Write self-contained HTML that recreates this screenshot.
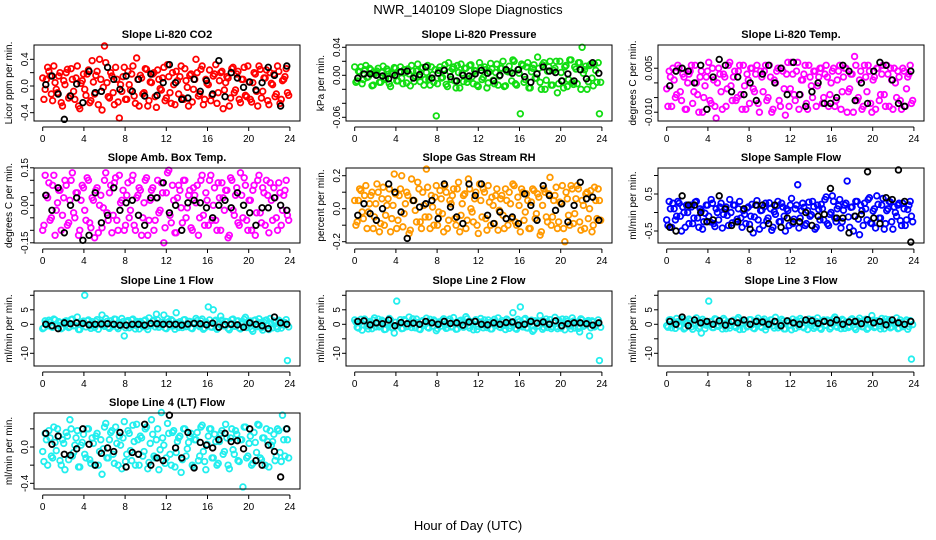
<!DOCTYPE html>
<html><head><meta charset="utf-8">
<style>
html,body{margin:0;padding:0;background:#fff;}
svg{display:block;font-family:"Liberation Sans",sans-serif;}
</style></head>
<body>
<svg id="chart" width="936" height="540" viewBox="0 0 936 540" xmlns="http://www.w3.org/2000/svg">
<rect width="936" height="540" fill="#fff"/>
<text x="468" y="14" text-anchor="middle" font-size="13">NWR_140109  Slope Diagnostics</text>
<text x="468" y="530" text-anchor="middle" font-size="13">Hour of Day (UTC)</text>
</svg>
<script>
const co2 = [0.12,-0.05,0.28,0.15,-0.22,0.05,-0.1,0.2,-0.3,0.02,0.25,-0.15,0.1,-0.2,0.3,-0.34,0.08,-0.05,0.18,-0.25,0.38,-0.12,0.22,0.4,-0.36,0.6,0.05,-0.18,0.15,-0.28,0.1,-0.48,-0.08,0.28,-0.2,0.02,0.18,-0.15,0.42,-0.3,0.12,-0.1,0.25,-0.22,0.05,0.2,-0.32,0.1,-0.06,0.28,-0.18,0.14,-0.26,0.02,0.22,-0.12,0.3,-0.2,0.08,-0.3,0.18,-0.05,0.4,-0.15,0.25,-0.28,0.1,0.02,-0.22,0.15,0.32,-0.1,0.2,-0.34,0.05,0.12,-0.18,0.28,-0.06,0.22,-0.25,0.1,-0.14,0.3,-0.2,0.05,0.18,-0.3,0.25,-0.08,0.12,-0.22,0.2,0.02,-0.16,0.3,-0.26,0.08,0.14,-0.1];
const co2B = [-0.2,0.1,0.22,-0.12,0.3,-0.05,0.15,-0.25,0.08,0.2,-0.18,0.26,-0.08,0.12,-0.3,0.04,0.18,-0.14,0.24,-0.22,0.06,0.16,-0.28,0.1,-0.02,0.35,-0.16,0.2,-0.1,0.28,-0.24,0.02,0.14,-0.2,0.22,-0.06,0.3,-0.26,0.1,0.16,-0.12,0.26,-0.3,0.06,0.18,-0.16,0.24,-0.04,0.12,-0.22,0.32,-0.1,0.2,-0.28,0.08,0.14,-0.18,0.26,-0.02,0.16,-0.24,0.1,0.2,-0.12,0.3,-0.2,0.04,0.24,-0.14,0.18,-0.26,0.08,0.22,-0.06,0.14,-0.3,0.26,-0.1,0.18,-0.2,0.1,0.28,-0.16,0.06,-0.24,0.2,-0.08,0.3,-0.18,0.12,0.24,-0.28,0.04,0.18,-0.12,0.22,-0.2,0.1,0.26,-0.14];
const co2Ref = [0.02,0.15,-0.12,-0.5,-0.15,0.03,-0.25,0.22,-0.1,-0.08,0.28,0.1,-0.05,0.15,-0.08,0.1,-0.15,0.18,-0.14,0.05,0.32,0.05,-0.2,-0.18,0.1,-0.08,0.08,-0.12,0.38,-0.16,0.2,0.12,-0.02,0.06,-0.06,0.05,0.28,0.16,-0.3,0.3];
const pres = [0.012,-0.008,0.005,-0.012,0.008,-0.003,0.01,-0.015,0.002,0.006,-0.01,0.004,-0.006,0.009,-0.012,0.003,0.011,-0.008,0.005,-0.004,0.008,-0.011,0.002,0.014,-0.009,0.006,-0.002,0.01,-0.014,0.004,-0.006,0.012,-0.01,-0.058,0.007,-0.004,0.009,-0.013,0.018,-0.006,0.012,-0.018,0.004,0.016,-0.009,0.01,-0.005,0.015,-0.012,0.006,-0.016,0.011,-0.003,0.008,-0.011,0.017,-0.007,0.004,-0.014,0.01,0.02,-0.015,0.005,0.005,0.022,-0.012,0.008,-0.055,0.014,-0.006,0.018,-0.018,0.01,-0.004,0.026,-0.01,0.015,-0.02,0.006,0.02,-0.014,0.01,-0.025,0.02,-0.008,0.012,-0.016,0.022,-0.01,0.012,-0.012,0.018,0.04,0.008,-0.02,0.014,-0.004,0.016,-0.01,-0.055];
const presB = [-0.01,0.006,0.012,-0.006,0.014,-0.002,0.008,-0.014,0.004,0.01,-0.01,0.013,-0.004,0.006,-0.016,0.002,0.01,-0.008,0.012,-0.012,0.004,0.009,-0.015,0.006,-0.001,0.016,-0.009,0.011,-0.006,0.014,-0.014,0.001,0.008,-0.012,0.012,-0.003,0.015,-0.016,0.005,0.009,-0.008,0.014,-0.018,0.003,0.01,-0.01,0.014,-0.002,0.007,-0.014,0.018,-0.006,0.012,-0.018,0.005,0.009,-0.012,0.016,-0.001,0.01,-0.016,0.006,0.013,-0.008,0.02,-0.014,0.003,0.016,-0.01,0.012,-0.018,0.005,0.015,-0.004,0.01,-0.02,0.018,-0.007,0.012,-0.014,0.007,0.02,-0.012,0.004,-0.018,0.014,-0.006,0.022,-0.013,0.009,0.018,-0.02,0.003,0.013,-0.009,0.016,-0.015,0.007,0.018,-0.01];
const presRef = [-0.004,0.002,0.002,0.0,-0.001,-0.005,0.0,0.005,0.006,-0.004,0.001,0.012,-0.004,0.003,0.007,-0.002,-0.008,0.0,-0.001,0.002,0.007,0.003,-0.008,0.0,0.008,0.003,0.008,-0.002,-0.01,0.002,0.012,0.006,0.004,-0.008,0.002,-0.008,0.008,-0.005,0.018,0.003];
const ltemp = [-0.002,0.004,-0.008,0.001,-0.004,0.005,-0.006,0.002,-0.009,0.003,0.006,-0.003,0.0,-0.01,0.004,-0.005,0.002,0.007,-0.007,0.001,-0.012,0.005,-0.003,0.003,-0.008,0.006,-0.001,0.002,-0.006,0.004,-0.004,0.006,-0.009,0.001,0.005,-0.002,0.003,-0.007,0.004,-0.003,0.006,-0.005,0.002,-0.009,0.0,0.005,-0.008,0.004,-0.011,0.007,-0.002,0.003,-0.006,0.007,-0.004,0.001,0.006,-0.009,0.002,-0.005,0.004,-0.001,0.005,-0.007,0.003,0.002,-0.004,0.004,-0.008,0.001,0.006,-0.003,0.005,-0.01,-0.002,0.003,0.009,-0.006,0.001,-0.009,0.006,-0.003,0.004,-0.01,0.002,0.005,-0.006,0.003,-0.004,0.006,-0.008,0.001,0.005,-0.005,0.002,-0.009,0.004,-0.002,0.003,-0.007];
const ltempB = [-0.008,0.002,0.005,-0.005,0.006,-0.003,0.003,-0.009,0.0,0.004,-0.007,0.006,-0.004,0.002,-0.01,-0.001,0.004,-0.006,0.005,-0.008,0.0,0.003,-0.009,0.002,-0.002,0.007,-0.006,0.004,-0.005,0.006,-0.009,-0.001,0.003,-0.007,0.005,-0.003,0.006,-0.01,0.002,0.004,-0.006,0.006,-0.01,0.001,0.004,-0.006,0.005,-0.002,0.003,-0.008,0.007,-0.004,0.004,-0.009,0.001,0.003,-0.007,0.006,-0.001,0.004,-0.008,0.002,0.005,-0.005,0.006,-0.008,0.0,0.005,-0.006,0.004,-0.009,0.002,0.005,-0.003,0.003,-0.01,0.006,-0.005,0.004,-0.008,0.002,0.006,-0.007,0.001,-0.009,0.005,-0.004,0.006,-0.008,0.003,0.005,-0.009,0.0,0.004,-0.006,0.005,-0.008,0.002,0.006,-0.006];
const ltempRef = [-0.001,0.004,0.005,0.004,0.0,0.006,-0.009,0.002,0.008,0.006,-0.003,0.002,-0.004,0.0,-0.006,0.003,0.006,0.0,0.005,-0.004,0.007,-0.004,-0.008,-0.003,0.0,-0.007,-0.007,-0.005,0.006,0.004,-0.006,0.0,-0.007,0.004,0.007,0.006,0.001,-0.007,-0.008,0.004];
const amb = [-0.1,0.12,0.03,-0.06,0.08,-0.12,0.01,0.06,-0.04,0.1,-0.08,0.02,0.13,-0.05,0.05,-0.1,0.08,-0.02,0.11,-0.07,0.03,-0.13,0.07,0.0,-0.09,0.1,-0.03,0.05,-0.11,0.09,-0.06,0.12,0.02,-0.1,0.04,-0.05,0.1,-0.08,0.03,0.07,-0.12,0.01,0.11,-0.06,0.06,-0.1,0.03,-0.03,0.09,-0.15,0.05,0.14,-0.07,0.02,-0.11,0.08,-0.01,0.1,-0.05,0.04,-0.09,0.07,0.01,-0.12,0.1,-0.04,0.05,-0.08,0.12,0.0,-0.06,0.09,-0.1,0.03,0.06,-0.13,0.11,-0.02,0.04,-0.07,0.13,-0.05,0.08,-0.1,0.02,0.06,-0.12,0.1,-0.03,0.07,-0.08,0.04,0.09,-0.06,0.03,-0.1,0.05,-0.02,0.06,-0.04];
const ambB = [-0.08,0.04,0.09,-0.05,0.12,-0.02,0.06,-0.1,0.03,0.08,-0.07,0.1,-0.03,0.05,-0.12,0.02,0.07,-0.06,0.1,-0.09,0.02,0.06,-0.11,0.04,-0.01,0.13,-0.06,0.08,-0.04,0.11,-0.1,0.01,0.06,-0.08,0.09,-0.02,0.12,-0.1,0.04,0.06,-0.05,0.1,-0.12,0.02,0.07,-0.06,0.1,-0.02,0.05,-0.09,0.13,-0.04,0.08,-0.11,0.03,0.06,-0.07,0.1,-0.01,0.06,-0.1,0.04,0.08,-0.05,0.12,-0.08,0.02,0.1,-0.06,0.07,-0.1,0.03,0.09,-0.02,0.06,-0.12,0.1,-0.04,0.07,-0.08,0.04,0.11,-0.06,0.02,-0.1,0.08,-0.03,0.12,-0.07,0.05,0.1,-0.11,0.02,0.07,-0.05,0.09,-0.08,0.04,0.1,-0.06];
const ambRef = [0.04,-0.02,0.07,-0.11,0.0,0.03,-0.14,-0.12,0.05,-0.07,-0.04,0.07,-0.02,0.01,0.02,-0.04,-0.08,0.03,0.03,0.09,-0.03,0.0,-0.1,0.01,0.02,0.01,-0.01,-0.05,0.0,0.02,-0.01,0.05,0.0,-0.03,-0.08,-0.01,-0.01,0.03,0.0,-0.02];
const rh = [0.05,-0.08,0.12,-0.02,0.08,-0.12,0.03,0.1,-0.05,0.15,-0.14,0.06,-0.1,0.02,0.12,-0.06,0.21,-0.12,0.08,0.2,-0.03,0.1,-0.15,0.18,0.05,-0.08,0.12,-0.12,0.02,0.24,-0.05,0.08,-0.1,0.14,-0.02,0.06,-0.14,0.1,-0.07,0.03,0.12,-0.1,0.16,-0.04,0.08,-0.12,0.18,0.0,-0.08,0.1,-0.15,0.05,0.12,-0.06,0.14,-0.1,0.02,0.08,-0.13,0.06,-0.04,0.12,-0.1,0.03,0.15,-0.08,0.07,-0.14,0.1,-0.02,0.05,-0.12,0.12,-0.06,0.09,-0.16,0.02,0.1,-0.08,0.19,-0.05,0.08,-0.12,0.04,0.14,-0.2,0.06,-0.1,0.12,-0.03,0.14,-0.08,0.05,-0.12,0.1,0.0,-0.14,0.13,-0.06,0.05];
const rhB = [-0.1,0.05,0.11,-0.06,0.14,-0.02,0.08,-0.12,0.03,0.1,-0.09,0.13,-0.04,0.06,-0.14,0.02,0.09,-0.07,0.12,-0.11,0.03,0.08,-0.13,0.05,-0.01,0.16,-0.08,0.1,-0.05,0.13,-0.12,0.01,0.07,-0.1,0.11,-0.03,0.14,-0.12,0.05,0.08,-0.06,0.12,-0.14,0.03,0.09,-0.07,0.12,-0.02,0.06,-0.1,0.15,-0.05,0.1,-0.13,0.04,0.07,-0.09,0.12,-0.01,0.08,-0.12,0.05,0.1,-0.06,0.14,-0.1,0.02,0.12,-0.07,0.09,-0.12,0.04,0.11,-0.03,0.07,-0.14,0.12,-0.05,0.09,-0.1,0.05,0.13,-0.08,0.03,-0.12,0.1,-0.04,0.14,-0.09,0.06,0.12,-0.13,0.02,0.09,-0.06,0.11,-0.1,0.05,0.12,-0.07];
const rhRef = [-0.04,0.03,-0.03,-0.07,0.0,0.15,0.1,-0.02,-0.18,0.05,0.01,0.03,0.05,-0.06,0.15,0.01,-0.05,-0.09,0.15,0.08,0.15,-0.04,-0.09,-0.02,-0.06,-0.05,-0.09,0.09,0.02,-0.07,0.14,0.08,-0.01,0.03,-0.08,0.02,0.16,0.06,0.07,-0.07];
const samp = [-0.2,0.3,-0.4,0.1,-0.1,0.25,-0.5,0.0,0.2,-0.3,0.15,-0.15,0.3,-0.4,0.05,-0.25,0.2,-0.1,0.35,-0.3,0.1,-0.2,0.25,-0.05,0.15,-0.35,0.0,0.2,-0.25,0.1,-0.15,0.05,-0.3,0.15,-0.1,-0.55,0.2,-0.2,0.05,-0.35,0.25,-0.15,0.1,-0.4,-0.05,0.3,-0.25,0.15,-0.5,0.05,0.2,-0.3,0.1,0.75,-0.15,0.25,-0.35,0.05,-0.1,0.3,-0.45,0.2,-0.2,0.1,0.35,-0.3,-0.05,0.45,-0.15,0.1,0.35,-0.25,0.2,0.85,-0.4,0.15,-0.1,0.3,-0.6,0.05,0.25,-0.2,0.4,-0.3,0.1,0.45,-0.15,0.2,-0.45,0.05,0.3,-0.25,0.15,-0.1,0.25,-0.35,0.1,-0.2,0.2,-0.1];
const sampB = [-0.35,0.1,0.25,-0.2,0.3,-0.1,0.15,-0.4,0.0,0.2,-0.3,0.28,-0.15,0.1,-0.45,-0.02,0.2,-0.25,0.25,-0.38,0.0,0.15,-0.42,0.08,-0.08,0.35,-0.28,0.2,-0.18,0.3,-0.4,-0.05,0.12,-0.32,0.22,-0.12,0.32,-0.45,0.06,0.16,-0.22,0.26,-0.48,0.02,0.18,-0.25,0.25,-0.1,0.1,-0.35,0.38,-0.18,0.2,-0.42,0.05,0.14,-0.3,0.28,-0.06,0.16,-0.4,0.08,0.22,-0.2,0.42,-0.35,0.0,0.3,-0.25,0.18,-0.42,0.06,0.25,-0.12,0.14,-0.5,0.3,-0.18,0.2,-0.35,0.1,0.35,-0.28,0.04,-0.42,0.22,-0.15,0.38,-0.3,0.1,0.28,-0.45,0.0,0.2,-0.22,0.25,-0.35,0.08,0.3,-0.25];
const sampRef = [-0.4,-0.5,0.45,0.2,0.2,0.0,-0.25,-0.2,0.45,0.1,-0.35,-0.25,0.1,-0.45,0.2,0.2,-0.3,0.2,-0.4,-0.15,-0.25,-0.25,0.0,-0.35,-0.1,-0.05,0.65,-0.15,-0.15,-0.55,-0.1,-0.05,1.1,-0.15,-0.3,0.4,0.35,1.15,0.3,-0.8];
const line1 = [-1.5,1.2,-0.5,0.8,-1,1.5,-0.2,0.6,-1.2,1,0.3,-0.8,1.8,-0.4,2.5,-1.8,0.5,10,1.2,-0.6,0.9,-1.1,1.6,0.2,3.2,-0.7,1,-1.4,0.4,1.8,-0.9,0.6,2,-4,0.8,-1.2,1.5,-0.3,1,-1.6,0.5,1.2,-0.8,2.2,-0.2,1.4,3.5,-1,0.7,3.2,-1.5,0.9,1.6,-0.6,4,-1.1,0.3,1.5,-0.8,1,-1.3,0.6,2,-0.4,1.2,-1.7,0.8,6,-0.9,5,1.4,-1.2,2.8,-0.5,1,-1.4,0.4,1.8,-0.7,1.2,-1.6,0.9,2.4,-0.3,1.1,-2.4,1.5,-0.8,0.6,-2,1.3,-0.5,2,-1.2,0.8,-1.5,1,-0.2,0.6,-12.5];
const line1B = [-1.2,0.6,1.4,-0.8,1.8,-0.3,0.9,-1.5,0.2,1.2,-1.1,1.6,-0.5,0.7,-1.8,0.1,1.1,-0.9,1.5,-1.4,0.2,1,-1.7,0.6,-0.1,2,-1,1.2,-0.6,1.7,-1.5,0.1,0.9,-1.2,1.3,-0.3,1.8,-1.6,0.6,1,-0.8,1.5,-1.8,0.3,1.1,-0.9,1.5,-0.2,0.7,-1.3,1.9,-0.6,1.2,-1.7,0.5,0.9,-1.1,1.6,-0.1,1,-1.5,0.6,1.3,-0.8,1.8,-1.3,0.2,1.5,-1,1.1,-1.7,0.4,1.4,-0.4,0.9,-1.9,1.6,-0.7,1.1,-1.3,0.6,1.7,-1.1,0.3,-1.7,1.3,-0.5,1.9,-1.2,0.7,1.5,-1.8,0.2,1.1,-0.8,1.4,-1.3,0.6,1.6,-0.9];
const line1Ref = [0,-0.5,-1.5,0.5,0.2,0.5,0.3,-0.2,0,0.1,0.2,0,-0.3,-0.3,0,0,-0.3,0.3,0.2,0,0,0,-0.3,0.1,0.3,0.2,-0.2,0.4,-1,-0.1,0,-0.2,-1,0.5,0,-0.5,-1.5,2.5,0.5,0];
const line2 = [1.5,-1,0.5,-2,1.8,-0.6,1,-1.5,2.2,0.3,-0.9,1.4,-1.8,0.7,2,-1.2,-3,8,0.4,-1.5,1.6,-0.8,2.5,-1.1,0.6,1.8,-1.6,0.9,-0.4,2.1,-1.3,0.5,1.5,-2.2,0.8,-0.6,1.9,-1.4,1.1,-0.9,2.3,-1.7,0.4,1.4,-1,2.6,-0.5,0.9,-1.9,1.6,-0.7,2,-1.2,0.3,1.5,-1.6,0.8,-0.4,2.2,-1.1,0.7,-1.8,1.3,-0.5,4,-1.4,1.7,6,-0.9,2,-1.3,0.6,-2.4,1.2,-0.6,3,-1.7,0.9,-1.1,1.6,-0.8,2.4,-1.5,0.5,1.8,-1.9,1,-0.6,2.2,-1.3,0.7,-2.6,1.5,-0.4,0.8,-4,1.2,-0.9,0.4,-12.5];
const line2B = [0.8,-1.3,1.7,-0.2,1.1,-1.6,0.5,1.4,-0.9,1.8,-0.4,0.9,-1.7,0.3,1.5,-1.1,0.7,-0.5,1.6,-1.4,1.2,-0.7,0.4,1.9,-1.2,0.6,-1.8,1.3,0.1,-1,1.7,-0.6,1,-1.5,0.5,1.4,-0.3,-1.2,1.8,-0.8,0.3,-1.6,1.2,0.7,-0.5,1.9,-1.3,0.4,1.1,-1.8,0.8,-0.2,1.5,-1.1,0.6,-1.6,1.7,0.2,-0.9,1.3,-0.4,1.8,-1.4,0.5,1,-1.7,0.9,-0.3,1.6,-1.2,0.2,1.4,-1.9,0.7,-0.6,1.2,-1.1,1.8,0.3,-1.5,1,-0.8,1.5,-1.3,0.4,1.7,-0.2,-1.6,1.1,0.6,-1.4,1.9,-0.7,0.2,1.3,-1.2,0.8,-0.4,1.5,-1];
const line2Ref = [1,1.2,-0.2,0.5,0.2,1.5,-0.5,0.6,0.2,0.4,0,1,0.5,0,1,0.3,0.5,-0.3,0.8,1,0,-0.2,0.5,0,0.6,0.8,-0.3,0,1,0.4,0.8,0,1.2,-0.5,0.2,0.5,0.5,0.2,-0.3,0.5];
const line3 = [-0.5,1.5,-1.2,0.8,2,-0.6,1.2,-1.6,0.4,1.8,-0.9,0.5,2.2,-1.4,-3,1,-0.3,8,0.9,-1.1,1.7,-0.7,0.3,2,-1.5,0.8,-0.4,1.4,-1.1,2.3,0.1,-1.7,1,-0.6,1.6,-1.3,0.6,2.1,-0.8,1.2,-1.9,0.7,1.5,-0.5,2.4,-1.2,0.4,1.1,-1.6,0.9,-0.3,1.8,-1.4,0.6,2,-0.9,1.3,-1.8,0.5,1.6,-0.7,2.2,-1.3,0.8,-0.4,1.5,-1.6,1,2.5,-1,0.4,1.7,-1.4,0.7,-0.6,1.9,-1.2,0.9,2.1,-0.8,1.4,-1.7,0.6,3,-1.1,1.2,-0.5,2,-1.5,0.8,1.6,-0.9,0.3,2.2,-1.3,0.7,-0.4,1.5,-0.8,-12];
const line3B = [-1,1.6,0.3,-1.4,0.9,-0.5,1.8,-1.2,0.6,1.3,-1.7,0.2,1.1,-0.8,1.7,-1.5,0.4,1,-1.1,1.9,-0.3,0.8,-1.6,1.4,0.1,-1.3,1.2,-0.6,1.7,-1.8,0.5,1,-0.9,1.6,-0.2,-1.5,1.3,0.4,-1.1,1.8,-0.7,0.2,1.5,-1.3,0.9,-0.4,1.7,-1.6,0.6,1.1,-1.9,0.3,1.4,-0.8,1.2,-1.2,0.5,1.8,-0.5,-1.4,1,0.1,-1.7,1.5,-0.3,1.1,-1,1.9,-0.6,0.4,-1.5,1.3,0.8,-1.1,1.6,-0.2,-1.8,1.2,0.5,-0.9,1.7,-1.3,0.3,1.4,-0.7,1,-1.6,0.6,1.8,-0.4,-1.2,1.1,0.2,-1.5,1.5,-0.8,0.9,-1.7,1.3,-0.1];
const line3Ref = [1,0,2.5,-0.5,1.5,0.5,1,0,1.2,-0.3,1,0.5,1.5,0,1,0.8,0,1,-0.5,1.2,0.5,0,1.5,1.2,0.3,1,0.5,1.5,0,0.8,1,0.2,1.6,0.5,1,-0.2,1.5,0.5,0,1];
const line4 = [-0.05,0.15,-0.2,0.1,-0.12,0.05,0.2,-0.15,0.08,-0.25,0.12,0.3,-0.1,0.02,0.18,-0.22,0.05,-0.08,0.2,-0.14,0.1,-0.2,0.15,-0.05,-0.3,0.22,-0.12,0.08,0.18,-0.18,0.04,0.12,-0.24,0.28,-0.08,0.15,-0.15,0.06,0.25,-0.2,0.1,-0.05,0.22,-0.17,0.3,-0.1,0.08,-0.25,0.38,0.02,-0.12,0.15,-0.2,0.18,-0.06,0.1,-0.28,0.2,-0.1,0.05,0.15,-0.22,0.08,-0.15,0.22,-0.05,-0.25,0.12,0.2,-0.12,0.06,-0.18,0.15,-0.08,0.25,-0.2,0.1,-0.03,0.18,-0.15,0.08,-0.44,0.22,-0.1,0.12,-0.18,0.05,0.25,-0.12,0.1,-0.2,0.06,0.18,0.06,-0.15,0.2,-0.06,0.35,-0.1,0.08];
const line4B = [-0.16,0.08,0.18,-0.1,0.22,-0.04,0.12,-0.2,0.04,0.16,-0.14,0.2,-0.06,0.1,-0.22,0.02,0.14,-0.12,0.2,-0.18,0.04,0.12,-0.2,0.08,-0.02,0.26,-0.12,0.16,-0.08,0.22,-0.2,0.02,0.1,-0.16,0.18,-0.04,0.24,-0.2,0.08,0.12,-0.1,0.2,-0.24,0.04,0.14,-0.12,0.2,-0.03,0.1,-0.18,0.26,-0.08,0.16,-0.22,0.06,0.12,-0.14,0.2,-0.02,0.12,-0.2,0.08,0.16,-0.1,0.24,-0.16,0.03,0.2,-0.12,0.14,-0.2,0.06,0.18,-0.05,0.1,-0.24,0.2,-0.08,0.14,-0.16,0.08,0.22,-0.12,0.04,-0.2,0.16,-0.06,0.24,-0.14,0.1,0.2,-0.22,0.02,0.14,-0.1,0.18,-0.16,0.08,0.2,-0.12];
const line4Ref = [0.15,0.03,0.12,-0.08,-0.09,-0.02,0.2,0.03,-0.2,-0.07,-0.01,-0.05,0.16,-0.22,-0.06,-0.08,0.25,-0.2,-0.12,-0.15,0.35,-0.01,-0.12,0.16,-0.23,0.05,0.02,-0.01,0.08,0.15,0.06,0.07,-0.02,0.2,-0.15,-0.2,0.02,-0.05,-0.33,0.2];
const xTicks = [0,4,8,12,16,20,24];

const NS = 'http://www.w3.org/2000/svg';
const svg = document.getElementById('chart');
function mk(tag, attrs, parent){const e=document.createElementNS(NS,tag);for(const k in attrs)e.setAttribute(k,attrs[k]);(parent||svg).appendChild(e);return e;}

const colLeft=[34,346,658], rowTop=[45,168,291,413], rowBot=[121,243,366,489];
const panels = [
 {id:'co2',title:'Slope Li-820 CO2',yt:'Licor ppm per min.',c:0,r:0,v:co2,v2:co2B,b:co2Ref,col:'#ff0000',y0:86,s:66.7,ticks:[-0.4,-0.2,0,0.2,0.4],labs:['-0.4','','0.0','','0.4']},
 {id:'pressure',title:'Slope Li-820 Pressure',yt:'kPa per min.',c:1,r:0,v:pres,v2:presB,b:presRef,col:'#11dd11',y0:75.3,s:700,ticks:[-0.06,-0.04,-0.02,0,0.02,0.04],labs:['-0.06','','','0.00','','0.04']},
 {id:'li820-temp',title:'Slope Li-820 Temp.',yt:'degrees C per min.',c:2,r:0,v:ltemp,v2:ltempB,b:ltempRef,col:'#ff00ff',y0:82.9,s:2933,ticks:[-0.01,-0.005,0,0.005],labs:['-0.010','','','0.005']},
 {id:'amb-box-temp',title:'Slope Amb. Box Temp.',yt:'degrees C per min.',c:0,r:1,v:amb,v2:ambB,b:ambRef,col:'#ff00ff',y0:205.3,s:250,ticks:[-0.15,-0.1,-0.05,0,0.05,0.1,0.15],labs:['-0.15','','','0.00','','','0.15']},
 {id:'gas-stream-rh',title:'Slope Gas Stream RH',yt:'percent per min.',c:1,r:1,v:rh,v2:rhB,b:rhRef,col:'#ff9900',y0:208.7,s:165,ticks:[-0.2,-0.1,0,0.1,0.2],labs:['-0.2','','0.0','','0.2']},
 {id:'sample-flow',title:'Slope Sample Flow',yt:'ml/min per min.',c:2,r:1,v:samp,v2:sampB,b:sampRef,col:'#0000ff',y0:212.5,s:37,ticks:[-0.5,0,0.5,1],labs:['-0.5','','0.5','']},
 {id:'line1-flow',title:'Slope Line 1 Flow',yt:'ml/min per min.',c:0,r:2,v:line1,v2:line1B,b:line1Ref,col:'#22eeee',y0:324.3,s:2.9,ticks:[-10,-5,0,5,10],labs:['-10','','0','5','']},
 {id:'line2-flow',title:'Slope Line 2 Flow',yt:'ml/min per min.',c:1,r:2,v:line2,v2:line2B,b:line2Ref,col:'#22eeee',y0:324.3,s:2.9,ticks:[-10,-5,0,5,10],labs:['-10','','0','5','']},
 {id:'line3-flow',title:'Slope Line 3 Flow',yt:'ml/min per min.',c:2,r:2,v:line3,v2:line3B,b:line3Ref,col:'#22eeee',y0:324.3,s:2.9,ticks:[-10,-5,0,5,10],labs:['-10','','0','5','']},
 {id:'line4-flow',title:'Slope Line 4 (LT) Flow',yt:'ml/min per min.',c:0,r:3,v:line4,v2:line4B,b:line4Ref,col:'#22eeee',y0:447,s:90.8,ticks:[-0.4,-0.2,0,0.2],labs:['-0.4','','0.0','']}
];

panels.forEach(p=>{
  const L=colLeft[p.c], R=L+266, T=rowTop[p.r], B=rowBot[p.r];
  const xs=h=>L+8.7+h*10.3;
  const ys=v=>p.y0-v*p.s;
  const g=mk('g',{});
  
  
  const t=mk('text',{x:(L+R)/2,y:T-7,'text-anchor':'middle','font-size':11,'font-weight':'bold'},g);
  
  
  t.textContent=p.title;
  const pts=mk('g',{fill:'none','stroke-width':1.8},g);
  
  
  p.v.forEach((v,i)=>{
    const c=mk('circle',{cx:xs(i*0.24),cy:ys(v),r:2.8,stroke:p.col},pts);
    
    
  });
  p.v2.forEach((v,i)=>{
    const c=mk('circle',{cx:xs(0.12+i*0.24),cy:ys(v),r:2.8,stroke:p.col},pts);
    
    
  });
  p.b.forEach((v,i)=>{
    const c=mk('circle',{cx:xs(0.3+i*0.6),cy:ys(v),r:2.8,stroke:'#000'},pts);
    
    
  });
  const box=mk('rect',{x:L,y:T,width:R-L,height:B-T,fill:'none',stroke:'#000','stroke-width':1},g);
  
  
  const xa=mk('g',{},g);
  
  
  mk('line',{x1:xs(0),x2:xs(24),y1:B+6,y2:B+6,stroke:'#000'},xa);
  xTicks.forEach(h=>{
    mk('line',{x1:xs(h),x2:xs(h),y1:B+6,y2:B+10,stroke:'#000'},xa);
    const tl=mk('text',{x:xs(h),y:B+21,'text-anchor':'middle','font-size':10},xa);
    
    
    tl.textContent=h;
  });
  const ya=mk('g',{},g);
  
  
  const tv=p.ticks.map(ys);
  mk('line',{x1:L,x2:L,y1:Math.min(...tv),y2:Math.max(...tv),stroke:'#000'},ya);
  p.ticks.forEach((v,i)=>{
    const y=ys(v);
    mk('line',{x1:L-4,x2:L,y1:y,y2:y,stroke:'#000'},ya);
    if(p.labs[i]){
      const tl=mk('text',{x:L-6,y:y,'text-anchor':'middle','font-size':10,transform:`rotate(-90 ${L-6} ${y})`},ya);
      
      
      tl.textContent=p.labs[i];
    }
  });
  const yt=mk('text',{x:L-22,y:(T+B)/2,'text-anchor':'middle','font-size':10,transform:`rotate(-90 ${L-22} ${(T+B)/2})`},g);
  
  
  yt.textContent=p.yt;
});
</script>
</body></html>
